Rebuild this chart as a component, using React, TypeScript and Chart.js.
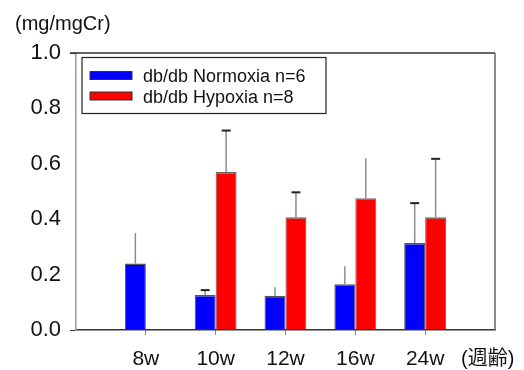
import React, { useEffect, useRef } from 'react';
import { Chart, registerables } from 'chart.js';

Chart.register(...registerables);

const categories = ['8w', '10w', '12w', '16w', '24w'];
const normoxia = [0.24, 0.126, 0.124, 0.165, 0.314];
const normoxiaErr = [0.11, 0.018, 0.03, 0.065, 0.144];
const normoxiaCap = [false, true, false, false, true];
const hypoxia = [null, 0.57, 0.407, 0.476, 0.407];
const hypoxiaErr = [null, 0.15, 0.09, 0.144, 0.211];
const hypoxiaCap = [false, true, true, false, true];
const yTicks = [0, 0.2, 0.4, 0.6, 0.8, 1.0];
const seriesNames = ['db/db Normoxia n=6', 'db/db Hypoxia n=8'];
const seriesColors = ['#0000ff', '#ff0000'];
const yUnit = '(mg/mgCr)';
const xUnit = '(週齢)';

const FONT = "'Liberation Sans', Arial, sans-serif";

const labels = ['', ...categories, ''];
const pad = (arr: any[]) => [null, ...arr, null];

const errorBarPlugin = {
  id: 'errorBars',
  afterDatasetsDraw(chart: any) {
    const ctx = chart.ctx;
    const ys = chart.scales.y;
    chart.data.datasets.forEach((ds: any, i: number) => {
      const meta = chart.getDatasetMeta(i);
      meta.data.forEach((el: any, j: number) => {
        const v = ds.data[j];
        const e = ds.errors[j];
        if (v == null || e == null) return;
        const x = el.x;
        const y0 = el.y;
        const y1 = ys.getPixelForValue(v + e);
        ctx.save();
        ctx.strokeStyle = '#8c8c8c';
        ctx.lineWidth = 1.5;
        ctx.beginPath();
        ctx.moveTo(x, y0);
        ctx.lineTo(x, y1);
        ctx.stroke();
        if (ds.caps[j]) {
          ctx.strokeStyle = '#222';
          ctx.lineWidth = 2;
          ctx.beginPath();
          ctx.moveTo(x - 4.5, y1);
          ctx.lineTo(x + 4.5, y1);
          ctx.stroke();
        }
        ctx.restore();
      });
    });
  },
};

const decorPlugin = {
  id: 'decor',
  afterDraw(chart: any) {
    const ctx = chart.ctx;
    const a = chart.chartArea;
    ctx.save();
    // frame top & right
    ctx.strokeStyle = '#333';
    ctx.lineWidth = 1.5;
    ctx.beginPath();
    ctx.moveTo(a.left - 6, a.top);
    ctx.lineTo(a.right, a.top);
    ctx.stroke();
    ctx.strokeStyle = '#666';
    ctx.beginPath();
    ctx.moveTo(a.right, a.top);
    ctx.lineTo(a.right, a.bottom);
    ctx.stroke();

    // legend
    const lx = a.left + 6;
    const ly = a.top + 4.5;
    ctx.strokeStyle = '#222';
    ctx.lineWidth = 1.2;
    ctx.strokeRect(lx, ly, 244, 56);
    ctx.font = `18px ${FONT}`;
    ctx.textAlign = 'left';
    ctx.textBaseline = 'alphabetic';
    seriesNames.forEach((name, i) => {
      const cy = ly + 18 + i * 20.5;
      ctx.fillStyle = seriesColors[i];
      ctx.fillRect(lx + 8, cy - 4, 42, 8);
      ctx.strokeStyle = '#333';
      ctx.lineWidth = 1;
      ctx.strokeRect(lx + 8, cy - 4, 42, 8);
      ctx.fillStyle = '#111';
      ctx.fillText(name, lx + 61, cy + 6.5);
    });

    // unit labels
    ctx.fillStyle = '#111';
    ctx.font = `20px ${FONT}`;
    ctx.textBaseline = 'middle';
    ctx.fillText(yUnit, a.left - 61, 24);
    ctx.font = `20px ${FONT}, 'Noto Sans CJK JP'`;
    ctx.textBaseline = 'alphabetic';
    ctx.fillText(xUnit, a.right - 34, a.bottom + 35);
    ctx.restore();
  },
};

export default function App() {
  const ref = useRef<HTMLCanvasElement>(null);
  useEffect(() => {
    if (!ref.current) return;
    const chart = new Chart(ref.current, {
      type: 'bar',
      data: {
        labels,
        datasets: [
          {
            label: seriesNames[0],
            data: pad(normoxia),
            errors: pad(normoxiaErr),
            caps: pad(normoxiaCap),
            backgroundColor: seriesColors[0],
            borderColor: '#555',
            borderWidth: { top: 1.5, left: 1, right: 1, bottom: 0 },
          } as any,
          {
            label: seriesNames[1],
            data: pad(hypoxia),
            errors: pad(hypoxiaErr),
            caps: pad(hypoxiaCap),
            backgroundColor: seriesColors[1],
            borderColor: '#666',
            borderWidth: { top: 1.5, left: 1, right: 1, bottom: 0 },
          } as any,
        ],
      },
      options: {
        responsive: false,
        animation: false,
        layout: { padding: { left: 0, top: 53, right: 29, bottom: 0 } },
        datasets: { bar: { categoryPercentage: 0.6, barPercentage: 1.0 } },
        plugins: { legend: { display: false }, tooltip: { enabled: false } },
        scales: {
          x: {
            type: 'category',
            offset: false,
            grid: {
              offset: false,
              drawOnChartArea: false,
              tickLength: 5,
              tickColor: (c: any) =>
                c.index === 0 || c.index === labels.length - 1 ? 'rgba(0,0,0,0)' : '#888',
            },
            border: { color: '#333', width: 1.5 },
            ticks: {
              font: { family: FONT, size: 21 },
              color: '#111',
              padding: 12,
              maxRotation: 0,
              autoSkip: false,
            },
            afterFit: (s: any) => {
              s.height = 40;
            },
          },
          y: {
            min: 0,
            max: 1,
            afterBuildTicks: (s: any) => {
              s.ticks = yTicks.map((v) => ({ value: v }));
            },
            grid: {
              drawOnChartArea: false,
              tickLength: 6,
              tickColor: (c: any) =>
                c.tick && (c.tick.value === 0 || c.tick.value === 1) ? '#333' : 'rgba(0,0,0,0)',
            },
            border: { color: '#999', width: 1.5 },
            ticks: {
              font: { family: FONT, size: 22 },
              color: '#111',
              padding: 9,
              callback: (v: any) => Number(v).toFixed(1),
            },
            afterFit: (s: any) => {
              s.width = 76;
            },
          },
        },
      } as any,
      plugins: [errorBarPlugin, decorPlugin],
    });
    return () => chart.destroy();
  }, []);
  return (
    <div style={{ position: 'absolute', left: 0, top: 0, width: 524, height: 370, background: '#fff' }}>
      <canvas ref={ref} width={524} height={370} style={{ display: 'block' }} />
    </div>
  );
}
